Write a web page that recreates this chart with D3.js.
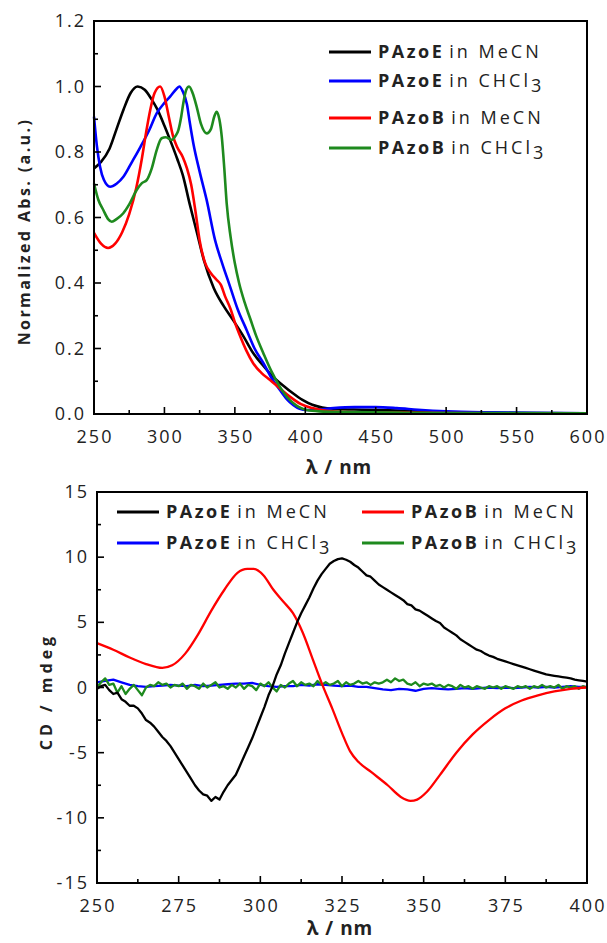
<!DOCTYPE html>
<html>
<head>
<meta charset="utf-8">
<script src="https://cdn.jsdelivr.net/npm/d3@7"></script>
<style>
  body { margin: 0; background: #fff; }
  svg text { font-family: "Open Sans", "DejaVu Sans", sans-serif; fill: #222; }
</style>
</head>
<body>
<svg id="chart" width="607" height="943"></svg>
<script>
// ---- top panel: normalized absorbance [wavelength nm, abs] ----
const absPAzoEMeCN = [[250,0.75],[255,0.77],[261,0.81],[266,0.87],[271,0.93],[276,0.98],[281,1.0],[286,0.99],[291,0.96],[295,0.93],[300,0.88],[304,0.837],[309,0.78],[313,0.73],[318,0.64],[323,0.555],[328,0.47],[335,0.385],[342,0.33],[349,0.285],[356,0.238],[363,0.186],[370,0.148],[377,0.114],[384,0.088],[391,0.064],[398,0.043],[405,0.028],[412,0.02],[420,0.016],[440,0.013],[460,0.011],[500,0.006],[550,0.003],[600,0.002]]
const absPAzoECHCl3 = [[250,0.908],[252,0.82],[254.3,0.755],[257,0.715],[261.4,0.694],[266,0.703],[271,0.725],[277,0.77],[283,0.816],[289,0.865],[294.5,0.918],[300,0.95],[304,0.969],[308,0.99],[310.6,1.0],[313,0.985],[316,0.945],[318,0.89],[320.5,0.827],[325,0.74],[330,0.653],[336,0.53],[341,0.46],[346.6,0.389],[352,0.32],[358.4,0.256],[364,0.2],[370.3,0.155],[376,0.11],[382,0.073],[387,0.045],[391.6,0.027],[396,0.016],[401,0.012],[410,0.014],[420,0.018],[435,0.021],[450,0.021],[465,0.018],[480,0.013],[500,0.008],[530,0.005],[560,0.004],[600,0.002]]
const absPAzoBMeCN = [[250,0.553],[255,0.52],[260,0.507],[265,0.52],[270,0.555],[275,0.61],[280,0.69],[284,0.78],[287,0.86],[290,0.93],[293,0.98],[297,1.0],[300,0.97],[303,0.91],[306,0.85],[309,0.815],[313,0.785],[316,0.75],[319,0.7],[322,0.62],[325,0.53],[329,0.46],[333,0.43],[337,0.41],[340,0.395],[343,0.36],[347,0.32],[350,0.28],[354,0.235],[358,0.195],[363,0.155],[369,0.125],[375,0.104],[382,0.078],[389,0.053],[397,0.03],[405,0.018],[415,0.01],[425,0.007],[450,0.005],[500,0.003],[600,0.002]]
const absPAzoBCHCl3 = [[250,0.704],[253,0.655],[256.6,0.623],[260,0.595],[262.6,0.587],[266,0.595],[270.8,0.613],[275,0.64],[280.3,0.684],[284,0.705],[287.4,0.714],[291,0.75],[294.5,0.806],[298,0.842],[301,0.845],[305.2,0.837],[308,0.85],[309.9,0.867],[312,0.91],[313.4,0.949],[315.5,0.99],[317.5,1.0],[320,0.98],[322.9,0.938],[326,0.885],[330,0.857],[333,0.87],[335.5,0.91],[337.1,0.923],[339,0.9],[340.7,0.847],[342.5,0.75],[344.2,0.643],[347,0.54],[350,0.46],[353,0.40],[357,0.34],[361,0.29],[365,0.24],[370.3,0.185],[376,0.13],[382,0.083],[387,0.052],[391.6,0.033],[396,0.02],[401,0.012],[410,0.008],[430,0.006],[470,0.004],[520,0.003],[600,0.002]]

// ---- bottom panel: CD (mdeg), recorded evenly from 250 to 400 nm ----
const cdPAzoEMeCN = [-0.1,0.1,0.2,-0.2,-0.5,-0.4,-0.9,-1.1,-1.4,-1.4,-1.6,-2.0,-2.5,-2.7,-3.0,-3.4,-3.8,-4.1,-4.5,-5.0,-5.5,-6.0,-6.5,-7.0,-7.5,-7.9,-8.2,-8.3,-8.7,-8.4,-8.6,-8.0,-7.5,-7.1,-6.7,-6.0,-5.3,-4.6,-3.9,-3.1,-2.3,-1.5,-0.6,0.1,1.0,1.7,2.6,3.4,4.2,5.0,5.7,6.3,6.9,7.6,8.2,8.7,9.1,9.5,9.7,9.85,9.9,9.8,9.65,9.4,9.2,8.9,8.6,8.5,8.2,7.9,7.7,7.5,7.3,7.1,6.9,6.7,6.4,6.3,6.0,5.9,5.7,5.5,5.3,5.1,4.95,4.6,4.4,4.2,4.0,3.7,3.5,3.3,3.1,2.9,2.8,2.6,2.45,2.35,2.2,2.1,2.0,1.9,1.8,1.7,1.6,1.5,1.4,1.3,1.2,1.1,1.0,0.95,0.9,0.85,0.8,0.75,0.7,0.6,0.55,0.5,0.45]
const cdPAzoECHCl3 = [0.4,0.5,0.6,0.4,0.2,0.1,0.05,0.1,0.15,0.2,0.15,0.1,0.2,0.1,0.15,0.2,0.25,0.3,0.3,0.35,0.2,0.1,0.05,0.1,0.1,0.2,0.15,0.25,0.2,0.15,0.1,0.15,0.05,0.05,-0.05,-0.15,-0.2,-0.1,-0.15,-0.25,-0.1,-0.05,-0.1,-0.15,-0.1,-0.05,-0.1,-0.05,0.0,-0.05,0.0,-0.05,0.0,0.05,0.0,0.05,0.0,0.05,0.1,0.05,0.05]
const cdPAzoBMeCN = [[250,3.4],[255,2.9],[260,2.3],[265,1.8],[270,1.5],[273,1.7],[277,2.6],[281,4.1],[285,5.9],[289,7.5],[293,8.8],[296,9.1],[298,9.1],[301,8.6],[304,7.5],[307,6.6],[310,5.7],[313,4.2],[316,2.2],[319,0.2],[322,-1.6],[325,-3.5],[327.5,-4.9],[330,-5.7],[334,-6.5],[339,-7.5],[343,-8.4],[346,-8.7],[348,-8.6],[351,-8.0],[355,-6.7],[360,-5.0],[365,-3.6],[370,-2.5],[375,-1.6],[380,-1.0],[385,-0.6],[390,-0.3],[395,-0.1],[400,0.0]]
const cdPAzoBCHCl3 = [0.0,0.4,0.7,0.2,0.3,-0.4,0.1,-0.5,-0.1,0.2,-0.2,-0.6,0.0,0.2,0.1,0.4,0.2,0.3,0.0,0.2,0.1,0.3,-0.1,0.2,0.1,-0.1,0.3,0.0,0.2,0.4,0.0,0.1,-0.1,0.2,0.0,0.3,-0.1,0.2,0.1,-0.2,0.3,0.1,0.4,0.0,-0.3,0.2,0.0,0.3,0.5,0.1,0.4,0.2,0.3,0.1,0.5,0.2,0.4,0.2,0.3,0.5,0.1,0.4,0.2,0.3,0.5,0.3,0.4,0.2,0.4,0.3,0.4,0.6,0.4,0.7,0.5,0.6,0.3,0.2,0.4,0.1,0.3,0.2,0.3,0.1,0.2,0.0,0.2,0.1,-0.1,0.2,0.0,0.1,-0.1,0.1,0.0,-0.1,0.1,0.0,0.1,-0.1,0.1,0.0,-0.1,0.1,0.0,0.1,-0.1,0.1,0.0,0.2,0.0,0.1,0.0,0.2,-0.1,0.1,0.0,0.1,-0.1,0.1,0.0]

const seriesColors = ['#000000', '#0000ff', '#ff0000', '#1e8a1e']
const absXTicks = [250, 300, 350, 400, 450, 500, 550, 600]
const absYTicks = [0, 0.2, 0.4, 0.6, 0.8, 1.0, 1.2]
const cdXTicks = [250, 275, 300, 325, 350, 375, 400]
const cdYTicks = [-15, -10, -5, 0, 5, 10, 15]

const svg = d3.select('#chart')

// spread evenly sampled CD values over 250..400
const toPairs = vals => vals.map((v, i) => [250 + i * 150 / (vals.length - 1), v])

function drawFrame(g, x, y, xTicks, yTicks, xMinor, yMinor, yFmt) {
    const [x0, x1] = x.range()
    const [y0, y1] = y.range()
    const axisG = g.append('g').attr('stroke', '#000').attr('stroke-width', 1.6)

    xMinor.forEach(t => axisG.append('line')
        .attr('x1', x(t)).attr('x2', x(t)).attr('y1', y0).attr('y2', y0 - 4))
    xTicks.forEach(t => axisG.append('line')
        .attr('x1', x(t)).attr('x2', x(t)).attr('y1', y0).attr('y2', y0 - 7))
    yMinor.forEach(t => axisG.append('line')
        .attr('x1', x0).attr('x2', x0 + 4).attr('y1', y(t)).attr('y2', y(t)))
    yTicks.forEach(t => axisG.append('line')
        .attr('x1', x0).attr('x2', x0 + 7).attr('y1', y(t)).attr('y2', y(t)))

    g.append('rect')
        .attr('x', x0).attr('y', y1)
        .attr('width', x1 - x0).attr('height', y0 - y1)
        .attr('fill', 'none').attr('stroke', '#000').attr('stroke-width', 2)

    g.selectAll('.xlab').data(xTicks).enter().append('text')
        .attr('x', d => x(d) + 1).attr('y', y0 + 29)
        .attr('text-anchor', 'middle')
        .attr('font-size', '18px').attr('letter-spacing', '2px')
        .text(d => d)

    g.selectAll('.ylab').data(yTicks).enter().append('text')
        .attr('x', x0 - 8).attr('y', d => y(d) + 6)
        .attr('text-anchor', 'end')
        .attr('font-size', '18px').attr('letter-spacing', '2px')
        .text(yFmt)
}

function legendItem(g, lx, ly, color, bold, tail, sub) {
    g.append('line')
        .attr('x1', lx).attr('x2', lx + 42).attr('y1', ly).attr('y2', ly)
        .attr('stroke', color).attr('stroke-width', 3)
    const t = g.append('text').attr('x', lx + 49).attr('y', ly + 6).attr('font-size', '18px')
    t.append('tspan').attr('font-weight', 'bold').attr('letter-spacing', '2.5px').text(bold)
    t.append('tspan').attr('dx', 5).attr('letter-spacing', '3px').text(tail)
    if (sub) t.append('tspan').attr('dy', 5).text(sub)
}

// ---- top panel ----
const xAbs = d3.scaleLinear().domain([250, 600]).range([94, 587])
const yAbs = d3.scaleLinear().domain([0, 1.2]).range([414, 21])
const absPanel = svg.append('g')

const absLine = d3.line().x(d => xAbs(d[0])).y(d => yAbs(d[1])).curve(d3.curveMonotoneX)
const absSets = [absPAzoEMeCN, absPAzoECHCl3, absPAzoBMeCN, absPAzoBCHCl3]
absPanel.append('g').selectAll('path').data(absSets).enter().append('path')
    .attr('d', absLine)
    .attr('fill', 'none')
    .attr('stroke', (d, i) => seriesColors[i])
    .attr('stroke-width', 2.6)

drawFrame(absPanel, xAbs, yAbs, absXTicks, absYTicks,
    [275, 325, 375, 425, 475, 525, 575], [0.1, 0.3, 0.5, 0.7, 0.9, 1.1], d => d.toFixed(1))

legendItem(absPanel, 329, 52, seriesColors[0], 'PAzoE', 'in MeCN')
legendItem(absPanel, 329, 81, seriesColors[1], 'PAzoE', 'in CHCl', '3')
legendItem(absPanel, 329, 118, seriesColors[2], 'PAzoB', 'in MeCN')
legendItem(absPanel, 329, 148, seriesColors[3], 'PAzoB', 'in CHCl', '3')

absPanel.append('text')
    .attr('transform', `translate(30, ${(21 + 414) / 2 + 14}) rotate(-90)`)
    .attr('text-anchor', 'middle')
    .attr('font-size', '16px').attr('font-weight', 'bold').attr('letter-spacing', '2.4px')
    .text('Normalized Abs. (a.u.)')

absPanel.append('text')
    .attr('x', 339).attr('y', 474)
    .attr('text-anchor', 'middle')
    .attr('font-size', '19px').attr('font-weight', 'bold').attr('letter-spacing', '1px')
    .text('λ / nm')

// ---- bottom panel ----
const xCd = d3.scaleLinear().domain([250, 400]).range([97, 587])
const yCd = d3.scaleLinear().domain([-15, 15]).range([883, 492])
const cdPanel = svg.append('g')

const cdLine = d3.line().x(d => xCd(d[0])).y(d => yCd(d[1]))
const cdSets = [
    { data: toPairs(cdPAzoECHCl3), color: seriesColors[1], curve: d3.curveLinear },
    { data: toPairs(cdPAzoBCHCl3), color: seriesColors[3], curve: d3.curveLinear },
    { data: cdPAzoBMeCN, color: seriesColors[2], curve: d3.curveMonotoneX },
    { data: toPairs(cdPAzoEMeCN), color: seriesColors[0], curve: d3.curveLinear }
]
cdPanel.append('g').selectAll('path').data(cdSets).enter().append('path')
    .attr('d', d => cdLine.curve(d.curve)(d.data))
    .attr('fill', 'none')
    .attr('stroke', d => d.color)
    .attr('stroke-width', 2.3)
    .attr('stroke-linejoin', 'round')

drawFrame(cdPanel, xCd, yCd, cdXTicks, cdYTicks,
    [262.5, 287.5, 312.5, 337.5, 362.5, 387.5], [-12.5, -7.5, -2.5, 2.5, 7.5, 12.5], d => d)

legendItem(cdPanel, 117, 512, seriesColors[0], 'PAzoE', 'in MeCN')
legendItem(cdPanel, 117, 543, seriesColors[1], 'PAzoE', 'in CHCl', '3')
legendItem(cdPanel, 362, 512, seriesColors[2], 'PAzoB', 'in MeCN')
legendItem(cdPanel, 362, 543, seriesColors[3], 'PAzoB', 'in CHCl', '3')

cdPanel.append('text')
    .attr('transform', `translate(52, ${(492 + 883) / 2 + 4}) rotate(-90)`)
    .attr('text-anchor', 'middle')
    .attr('font-size', '16px').attr('font-weight', 'bold').attr('letter-spacing', '4px')
    .text('CD / mdeg')

cdPanel.append('text')
    .attr('x', 340).attr('y', 935)
    .attr('text-anchor', 'middle')
    .attr('font-size', '19px').attr('font-weight', 'bold').attr('letter-spacing', '1px')
    .text('λ / nm')
</script>
</body>
</html>
